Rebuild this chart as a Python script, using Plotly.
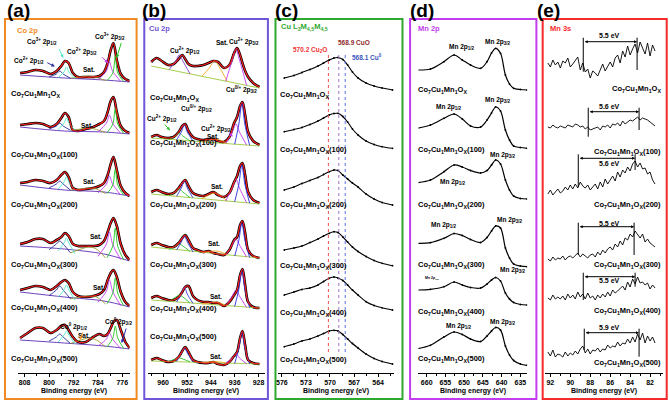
import plotly.graph_objects as go

W, H = 669, 404
FONT = "Liberation Sans, Arial, sans-serif"

samples = ["", "(100)", "(200)", "(300)", "(400)", "(500)"]

# ---------------- (a) Co 2p ----------------
a_energy = [809.5, 807, 804.5, 802, 799.5, 797.5, 796, 794.8, 793.6, 792.2, 790.5, 788,
            785.5, 783.5, 782, 780.8, 779.8, 778.9, 777.8, 776.5, 775, 773.6]
a_fresh = [9, 10, 12, 11, 8, 11, 16, 21, 19, 9, 5, 5, 5, 6, 10, 19, 32, 39, 22, 8, 3, 1]
a_100 = [9, 10, 11, 10, 7, 10, 16, 21, 17, 4, 3, 5, 7, 10, 13, 22, 33, 37, 22, 8, 3, 1]
a_200 = [13, 14, 16, 15, 13, 16, 21, 24, 19, 8, 6, 7, 8, 10, 13, 21, 32, 39, 26, 10, 3, 0]
a_300 = [18, 20, 23, 23, 19, 22, 25, 29, 26, 18, 16, 16, 16, 17, 21, 30, 39, 44, 36, 18, 7, 2]
a_400 = [18, 20, 22, 21, 18, 22, 26, 28, 25, 16, 12, 11, 12, 14, 18, 28, 35, 38, 31, 16, 6, 2]
a_500 = [12, 17, 22, 22, 17, 20, 24, 25, 20, 13, 8, 8, 13, 16, 14, 16, 22, 28, 30, 20, 8, 2]
a_offsets = [291, 239, 177, 111, 65, 23]

a_bg_energy = [809.5, 795, 782, 773.6]
a_bg = [[7, 4, 2, 0], [7, 3, 2, 0], [11, 6, 4, 0], [16, 13, 8, 1], [16, 11, 7, 1], [10, 7, 4, 1]]
a_green_energy = [781, 779.1, 778.3, 777.5, 775.5]
a_green = [[1.4, 9, 26, 9, 0.4], [1.4, 10, 26, 10, 0.4], [2.3, 11, 27, 11, 0.6],
           [4.3, 16, 34, 16, 1.9], [4.3, 15, 30, 15, 1.9], [3, 12, 24, 12, 1.2]]
a_magenta_energy = [784, 781.2, 780.2, 779.2, 776.5]
a_magenta = [[2, 11, 20, 11, 0.6], [2, 11, 19, 11, 0.6], [3.1, 12, 20, 12, 0.9],
             [5.6, 18, 30, 18, 2.3], [5.6, 17, 28, 17, 2.3], [4, 11, 17, 11, 1.5]]
a_cyan_energy = [797, 795.1, 794.3, 793.5, 791.5]
a_cyan = [[4.6, 10, 15, 10, 3.5], [4.6, 11, 16, 11, 3.5], [7.1, 14, 19, 14, 5.4],
          [11, 19, 24, 19, 8], [11, 18, 23, 18, 8], [8, 15, 19, 15, 6]]
a_blue_energy = [800, 797.6, 796.5, 795.4, 793]
a_blue = [[5.1, 8, 11, 8, 3.8], [5.1, 8, 11, 8, 3.8], [8.1, 12, 15, 12, 5.9],
          [12.3, 18, 21, 18, 9.2], [12.3, 18, 22, 18, 9.2], [9, 13, 16, 13, 6.5]]
a_sat_energy = [793, 789.5, 787, 784.5, 781.5]
a_sat = [[3.8, 5, 6, 4.5, 1.5], [3.8, 5, 6, 4.5, 1.5], [5.9, 7, 8, 7, 2.4],
         [9.2, 13, 15, 13, 4], [9.2, 11, 12, 11, 4], [6.5, 10, 12, 10, 3]]

# ---------------- (b) Cu 2p ----------------
b_energy = [964, 962.2, 960.5, 958.3, 956.5, 954.8, 953.6, 952.6, 951.5, 950, 948.5, 946.5,
            944.8, 943.2, 941.6, 939.6, 937.8, 936.2, 935.2, 934.2, 933.4, 932.5, 931.5, 929.8, 927.7]
b_fresh = [26, 30, 27, 23, 24, 29, 33, 29, 24, 22, 22, 23, 25, 27, 26, 20, 23, 35, 40, 33, 25, 17, 11, 5, 1]
b_100 = [9, 11, 9, 8, 9, 14, 20, 22, 15, 9, 7, 6, 7, 7, 5, 4, 9, 23, 29, 40, 44, 31, 14, 5, 1]
b_200 = [12, 14, 12, 10, 11, 16, 21, 24, 18, 11, 9, 8, 10, 12, 9, 7, 11, 22, 28, 38, 41, 29, 12, 4, 1]
b_300 = [14, 16, 14, 12, 12, 16, 21, 24, 19, 11, 9, 7, 8, 6, 5, 4, 9, 19, 22, 34, 38, 26, 9, 3, 1]
b_400 = [11, 13, 11, 9, 9, 12, 17, 22, 23, 13, 9, 7, 7, 6, 6, 3, 7, 14, 19, 34, 40, 24, 7, 2, 1]
b_500 = [5, 7, 5, 3, 4, 8, 14, 18, 13, 5, 3, 2, 2, 3, 1, 0, 3, 9, 13, 27, 34, 20, 5, 2, 1]
b_offsets = [285, 227, 169, 114, 64, 8]

b_bg_energy = [964, 927.7]
b_bg = [[22, 0], [8, 0], [10, 0], [12, 1], [9, 1], [4, 1]]
b_magenta_energy = [939, 936.8, 935.6, 934.4, 932]
b_magenta = [[6.8, 28, 39, 28, 2.6], [2.5, 14, 22, 14, 1], [3.1, 16, 25, 16, 1.2],
             [4, 14, 20, 14, 2], [3, 13, 19, 13, 1.5], [2, 7, 11, 7, 1.2]]
b_blue_energy = [936, 934.6, 933.6, 932.6, 931]
b_blue = [None, [1.8, 22, 43, 22, 0.7], [2.3, 20, 39, 20, 0.9],
          [3, 19, 36, 19, 1.5], [2.5, 20, 38, 20, 1.3], [1.5, 17, 33, 17, 1.1]]
b_blue2_energy = [955.5, 953.9, 952.9, 951.9, 950]
b_blue2 = [None, [6.1, 14, 21, 14, 4.9], [7.7, 16, 23, 16, 6.1],
           [9, 17, 23, 17, 7], [7, 15, 22, 15, 5.5], [3.5, 12, 17, 12, 3]]
b_green_energy = [958, 955.8, 954.6, 953.4, 951]
b_green = [[18.4, 27, 33, 27, 14.1], [6.6, 10, 13, 10, 5.1], [8.3, 12, 15, 12, 6.4],
           [9.5, 13, 15, 13, 7.5], [7.5, 12, 14, 12, 6], [3.7, 6, 7, 6, 3.2]]
b_sat_energy = [947, 944.5, 942.8, 941, 938.5]
b_sat = [[11.7, 20, 27, 20, 6.5], [4.1, 6, 7, 6, 2.4], [5.3, 9, 11, 9, 3],
         [6.5, 7.5, 8, 7.5, 4], [5, 6, 7, 6, 3], [2.5, 3, 3.5, 3, 1.8]]

# ---------------- (c) Cu LMM ----------------
c_energy = [575.7, 574.5, 573.5, 572.5, 571.5, 570.8, 570.1, 569.5, 569, 568.4, 567.8, 567.2,
            566.5, 565.5, 564.5, 563.5, 562.2]
c_fresh = [13, 15.5, 18.5, 21.5, 25, 28, 31, 33, 33.5, 31.5, 26, 19, 13, 8, 5, 3, 1]
c_100 = [17.3, 19.5, 21.5, 24.5, 28, 31, 34, 35.5, 35.7, 32.5, 27, 20, 14, 8, 4.5, 2.3, 0.7]
c_200 = [16, 19, 22.5, 25.5, 28.5, 31.5, 34.3, 36, 35.5, 31, 27, 23, 19, 12, 7, 3.5, 1]
c_300 = [17, 19, 21, 24.5, 28, 31, 33.7, 35.3, 34.5, 30, 25, 20, 15.5, 10.5, 6.5, 3.7, 1.3]
c_400 = [16, 19, 21.5, 23, 26, 29.5, 32.7, 34, 33, 30.5, 26, 21, 16, 9.3, 5.5, 3.2, 1]
c_500 = [18.3, 21, 24, 26, 29, 31.5, 34, 34.7, 34, 30.5, 26, 21.5, 17, 11, 6.5, 3.5, 1]
c_offsets = [282, 224, 167, 106, 62, 8]
c_ref_energy = [570.2, 568.9, 568.1]
c_ref_labels = ["570.2 Cu<sub>2</sub>O", "568.9 CuO", "568.1 Cu<sup>0</sup>"]

# ---------------- (d) Mn 2p ----------------
d_energy = [662.5, 659, 655.4, 652.7, 650.5, 648.3, 645.6, 643.9, 642.7, 641.6, 640.3, 639,
            637.9, 636.8, 635, 633.2]
d_fresh = [21, 22, 29.3, 36, 31, 26, 22.7, 29.3, 38, 42.7, 37.7, 16, 7, 2.7, 1.5, 1]
d_100 = [20.7, 24, 30.7, 35, 30, 23, 22, 29, 36, 42, 38, 19, 9, 3, 1.5, 0.7]
d_200 = [17.3, 20, 28.3, 35, 33, 29.5, 27, 29.5, 35, 40, 36, 20, 10, 4, 1.5, 1]
d_300 = [24.7, 25.3, 29.7, 34.5, 32.5, 28.5, 25.5, 30.5, 37, 42, 40, 20, 10, 4, 2, 1.3]
d_400 = [16, 16.7, 19.3, 24, 21, 18.5, 18, 22, 26, 28.5, 25, 13, 7, 3.5, 1.5, 1]
d_500 = [17.3, 20.7, 29, 34, 31.5, 27, 24.5, 30, 35, 38.5, 36, 20, 11, 5.5, 2, 0.7]
d_offsets = [282, 224, 173, 105, 67, 7]

# ---------------- (e) Mn 3s ----------------
e_energy = [92.25, 92.0, 91.75, 91.5, 91.25, 91.0, 90.75, 90.5, 90.25, 90.0, 89.75, 89.5,
            89.25, 89.0, 88.75, 88.5, 88.25, 88.0, 87.75, 87.5, 87.25, 87.0, 86.75, 86.5,
            86.25, 86.0, 85.75, 85.5, 85.25, 85.0, 84.75, 84.5, 84.25, 84.0, 83.75, 83.5,
            83.25, 83.0, 82.75, 82.5, 82.25, 82.0, 81.75, 81.5]
e_fresh = [19, 15, 22, 17, 20, 14, 21, 19, 24, 15, 18, 22, 25, 12, 19, 10, 13, 4, 11, 9, 6, 12,
           18, 11, 16, 20, 15, 24, 27, 19, 31, 25, 36, 27, 33, 38, 29, 40, 34, 28, 39, 26, 37, 31]
e_100 = [10, 9, 12, 10, 9, 11, 10, 9, 12, 11, 10, 13, 12, 10, 11, 8, 10, 7, 8, 9, 10, 7,
         11, 10, 12, 9, 13, 12, 14, 11, 16, 13, 15, 17, 16, 18, 20, 17, 19, 18, 17, 15, 13, 11]
e_200 = [3, 7, 2, 5, 8, 4, 6, 10, 7, 12, 8, 13, 9, 15, 11, 9, 12, 7, 10, 13, 8, 15,
         10, 18, 13, 17, 21, 16, 25, 20, 27, 24, 30, 26, 33, 36, 30, 34, 28, 29, 23, 25, 17, 13]
e_300 = [3, 1, 5, 2, 4, 3, 6, 2, 5, 6, 4, 7, 9, 5, 8, 6, 4, 7, 8, 5, 10, 7,
         12, 9, 13, 15, 12, 18, 15, 21, 17, 24, 22, 28, 25, 31, 27, 24, 28, 20, 23, 19, 17, 15]
e_400 = [3, 1, 6, 2, 4, 2, 5, 1, 7, 3, 6, 2, 9, 4, 7, 2, 8, 3, 5, 1, 6, 3,
         7, 4, 9, 5, 11, 8, 10, 13, 15, 11, 19, 14, 22, 17, 24, 18, 19, 16, 18, 12, 16, 13]
e_500 = [6, 2, 8, 1, 4, 3, 1, 6, 2, 5, 3, 7, 4, 9, 12, 5, 9, 4, 8, 7, 10, 6,
         9, 8, 13, 10, 12, 11, 16, 12, 15, 14, 19, 15, 21, 16, 24, 18, 25, 15, 22, 17, 21, 15]
e_offsets = [291, 236, 176, 111, 72, 15]
e_left_peak = [88.7, 88.2, 89.2, 89.2, 88.7, 88.6]
e_right_peak = [83.3, 83.1, 83.5, 83.6, 83.5, 83.1]
e_splitting = ["5.5 eV", "5.6 eV", "5.6 eV", "5.5 eV", "5.5 eV", "5.9 eV"]

# ================= figure =================
fig = go.Figure()


def px(x):
    return x / W


def py(y):
    return 1 - y / H


ORANGE = "#F08A24"
BLUEV = "#6F55D8"
GREEN = "#2FA82F"
VIOLET = "#C23CF0"
RED = "#F52A2A"

panels = {
    "a": dict(n="", dom=(15.7, 128), rng=[810.3, 773.6], t0=776, dt=8),
    "b": dict(n="2", dom=(146.7, 263.3), rng=[965, 926], t0=928, dt=8),
    "c": dict(n="3", dom=(276.7, 393.3), rng=[576.5, 562.0], t0=564, dt=3),
    "d": dict(n="4", dom=(417.7, 526.7), rng=[662.2, 633.2], t0=635, dt=5),
    "e": dict(n="5", dom=(545, 663), rng=[92.5, 80.7], t0=82, dt=2),
}

for key, p in panels.items():
    n = p["n"]
    fig.layout["xaxis" + n] = dict(
        domain=[px(p["dom"][0]), px(p["dom"][1])], range=p["rng"], anchor="y" + n,
        showline=True, linecolor="black", linewidth=1, ticks="outside", ticklen=3,
        tickwidth=1, tickcolor="black", tick0=p["t0"], dtick=p["dt"],
        tickfont=dict(family=FONT, size=7, color="black", weight="bold"),
        showgrid=False, zeroline=False, fixedrange=True,
        minor=dict(ticks="outside", ticklen=2, tickcolor="black", dtick=p["dt"] / 2, showgrid=False),
    )
    fig.layout["yaxis" + n] = dict(
        domain=[py(373), py(19)], range=[0, 354], anchor="x" + n, visible=False, fixedrange=True)


def add_line(xs, ys, off, axis, color, width, spline=True, mode="lines", msize=2):
    if ys is None:
        return
    fig.add_trace(go.Scatter(
        x=xs, y=[v + off for v in ys], mode=mode, xaxis="x" + axis, yaxis="y" + axis,
        line=dict(color=color, width=width, shape="spline" if spline else "linear", smoothing=0.9),
        marker=dict(size=msize, color=color), hoverinfo="skip"))


# (a)
a_spectra = [a_fresh, a_100, a_200, a_300, a_400, a_500]
for i in range(6):
    o = a_offsets[i]
    add_line(a_energy, a_spectra[i], o, "", "black", 2.6)
    add_line(a_bg_energy, a_bg[i], o, "", "#5B2DB5", 0.9)
    add_line(a_sat_energy, a_sat[i], o, "", "#9A9A2E", 0.9)
    add_line(a_blue_energy, a_blue[i], o, "", "#2A2F9A", 0.9)
    add_line(a_cyan_energy, a_cyan[i], o, "", "#55E8C8", 0.9)
    add_line(a_magenta_energy, a_magenta[i], o, "", "#C23CF0", 0.9)
    add_line(a_green_energy, a_green[i], o, "", "#1FC81F", 0.9)
    add_line(a_energy, a_spectra[i], o, "", "#FF1E1E", 1.2)

# (b)
b_spectra = [b_fresh, b_100, b_200, b_300, b_400, b_500]
for i in range(6):
    o = b_offsets[i]
    add_line(b_energy, b_spectra[i], o, "2", "black", 2.6)
    add_line(b_bg_energy, b_bg[i], o, "2", "#9BC83A", 0.9, spline=False)
    add_line(b_sat_energy, b_sat[i], o, "2", "#F5A623", 0.9)
    add_line(b_green_energy, b_green[i], o, "2", "#2FC12F" if i else "#8A3FD0", 0.9)
    add_line(b_blue2_energy, b_blue2[i], o, "2", "#3A3AD8", 0.9)
    add_line(b_magenta_energy, b_magenta[i], o, "2", "#C23CF0", 0.9)
    add_line(b_blue_energy, b_blue[i], o, "2", "#2A2AE0", 0.9)
    add_line(b_energy, b_spectra[i], o, "2", "#FF1E1E", 1.2)

# (c)
c_spectra = [c_fresh, c_100, c_200, c_300, c_400, c_500]
for i in range(6):
    add_line(c_energy, c_spectra[i], c_offsets[i], "3", "black", 1.1, mode="lines+markers", msize=1.8)

# (d)
d_spectra = [d_fresh, d_100, d_200, d_300, d_400, d_500]
for i in range(6):
    add_line(d_energy, d_spectra[i], d_offsets[i], "4", "black", 1.2, mode="lines+markers", msize=1.8)

# (e)
e_spectra = [e_fresh, e_100, e_200, e_300, e_400, e_500]
for i in range(6):
    add_line(e_energy, e_spectra[i], e_offsets[i], "5", "black", 0.9, spline=False)

shapes = []
ann = []


def txt(x, y, s, size=7.0, color="black", xanchor="center"):
    ann.append(dict(x=px(x), y=py(y), xref="paper", yref="paper",
                    text=s, showarrow=False,
                    font=dict(family=FONT, size=size, color=color, weight="bold"),
                    xanchor=xanchor, yanchor="middle"))


def arrow(x, y, x0, y0, color):
    ann.append(dict(x=px(x), y=py(y), xref="paper", yref="paper", ax=x0 - x, ay=y0 - y,
                    text="", showarrow=True, arrowhead=2, arrowsize=0.7, arrowwidth=1,
                    arrowcolor=color))


# frames
for (x0, x1, col) in [(3, 135, ORANGE), (142.7, 266.7, BLUEV), (274.3, 401.7, GREEN),
                      (409.3, 536, VIOLET), (542.3, 666.7, RED)]:
    shapes.append(dict(type="rect", xref="paper", yref="paper", x0=px(x0), x1=px(x1),
                       y0=py(399), y1=py(19), line=dict(color=col, width=2)))

# panel letters
for (x, s) in [(17, "(a)"), (152, "(b)"), (285, "(c)"), (421, "(d)"), (548, "(e)")]:
    txt(x, 10, s, size=19)

# panel titles
txt(13, 30.5, "Co 2p", 7.5, ORANGE, "left")
txt(145, 28.5, "Cu 2p", 7.5, BLUEV, "left")
txt(278, 27, "Cu L<sub>3</sub>M<sub>4,5</sub>M<sub>4,5</sub>", 7.5, GREEN, "left")
txt(415, 28, "Mn 2p", 7.5, VIOLET, "left")
txt(548, 28, "Mn 3s", 7.5, RED, "left")

# axis titles
for (x0, x1) in [(15.7, 128), (146.7, 263.3), (276.7, 393.3), (417.7, 526.7), (545, 663)]:
    txt((x0 + x1) / 2, 390.5, "Binding energy (eV)", 7)

# sample labels
label_pos = {
    "a": (7, [94, 155, 205, 265, 308, 359], "left"),
    "b": (146.7, [98, 143, 205, 265, 309, 337], "left"),
    "c": (277, [95, 150, 205, 265.7, 313, 360], "left"),
    "d": (415, [90, 150, 205, 265, 311.7, 359.3], "left"),
    "e": (663, [89, 151.7, 205, 265, 310.7, 363.3], "right"),
}
for key, (x, ys, anc) in label_pos.items():
    for i, y in enumerate(ys):
        txt(x, y, "Co<sub>7</sub>Cu<sub>1</sub>Mn<sub>1</sub>O<sub>X</sub>" + samples[i], 7.5, "black", anc)

# (a) peak labels
txt(27, 60, "Co<sup>2+</sup> 2p<sub>1/2</sub>", 6.5)
txt(40, 41.5, "Co<sup>3+</sup> 2p<sub>1/2</sub>", 6.5)
txt(80, 51.5, "Co<sup>2+</sup> 2p<sub>3/2</sub>", 6.5)
txt(108, 36.5, "Co<sup>3+</sup> 2p<sub>3/2</sub>", 6.5)
arrow(53, 66.5, 44, 62, "#2A2F9A")
arrow(61.5, 58, 56.5, 47.5, "#55E8C8")
arrow(106.5, 63, 99, 56, "#C23CF0")
arrow(115, 58, 120, 41.5, "#1FC81F")
for (x, y) in [(87.5, 70), (85, 125), (87.5, 181.5), (94, 236.5), (97.5, 287), (82, 335)]:
    txt(x, y, "Sat.", 6.5)
txt(72, 326.5, "Co<sup>0</sup> 2p<sub>1/2</sub>", 6.5)
txt(117, 321.5, "Co<sup>0</sup> 2p<sub>3/2</sub>", 6.5)
arrow(78, 340, 81.5, 331, "#F58A1F")
arrow(120, 343, 125, 327, "#2A2AB0")

# (b) peak labels
txt(183.5, 50, "Cu<sup>2+</sup> 2p<sub>1/2</sub>", 6.5)
txt(221, 43, "Sat.", 6.5)
txt(243, 41.5, "Cu<sup>2+</sup> 2p<sub>3/2</sub>", 6.5)
txt(160, 118.5, "Cu<sup>2+</sup> 2p<sub>1/2</sub>", 6.5)
txt(195, 108.5, "Cu<sup>0/+</sup> 2p<sub>1/2</sub>", 6.5)
txt(240, 90, "Cu<sup>0/+</sup> 2p<sub>3/2</sub>", 6.5)
txt(215, 128, "Cu<sup>2+</sup> 2p<sub>3/2</sub>", 6.5)
arrow(168.5, 130.5, 162, 123, "#2FC12F")
arrow(231.5, 136.5, 226, 131.5, "#C23CF0")
for (x, y) in [(212, 136.5), (216, 186.5), (213, 243.5), (215, 296.5), (215, 356.5)]:
    txt(x, y, "Sat.", 6.5)

# (c) reference lines
ref_cols = ["#F24A4A", "#A070D0", "#5A6FE0"]
for i, e in enumerate(c_ref_energy):
    shapes.append(dict(type="line", xref="x3", yref="y3", x0=e, x1=e, y0=21, y1=320,
                       line=dict(color=ref_cols[i], width=1, dash="dot")))
txt(309, 50, c_ref_labels[0], 6.5, "#F03030")
txt(353, 43, c_ref_labels[1], 6.5, "#8E2A2A")
txt(366, 57, c_ref_labels[2], 6.5, "#3A55C0")

# (d) labels
d_lab = [(461, 47, "1/2"), (497, 42, "3/2"), (448, 107, "1/2"), (497, 100, "3/2"),
         (503, 155, "3/2"), (452, 182, "1/2"), (443, 225, "1/2"), (510, 220, "3/2"),
         (513, 270, "3/2"), (458, 326, "1/2"), (503, 322, "3/2")]
for (x, y, s) in d_lab:
    txt(x, y, "Mn 2p<sub>%s</sub>" % s, 6.5)
txt(431, 278, "Mn 2p<sub>1/2</sub>", 3.5)

# (e) splitting markers
e_arrow_y = [331.3, 261.3, 214.7, 146.3, 96.3, 40.3]
e_left_bottom = [301.3, 236.3, 186.3, 118, 73, 23]
e_right_bottom = [303, 243, 203, 118, 86.3, 16.3]
e_label_y = [338, 267, 209.7, 149.7, 92.3, 45.7]
for i in range(6):
    for (xv, yb) in [(e_left_peak[i], e_left_bottom[i]), (e_right_peak[i], e_right_bottom[i])]:
        shapes.append(dict(type="line", xref="x5", yref="y5", x0=xv, x1=xv,
                           y0=yb, y1=e_arrow_y[i] + 4, line=dict(color="black", width=1)))
    ann.append(dict(x=e_right_peak[i], y=e_arrow_y[i], xref="x5", yref="y5",
                    ax=e_left_peak[i], ay=e_arrow_y[i], axref="x5", ayref="y5", text="",
                    showarrow=True, arrowhead=2, arrowside="end+start", arrowsize=0.6,
                    arrowwidth=1, arrowcolor="black"))
    ann.append(dict(x=86.1, y=e_label_y[i], xref="x5", yref="y5", text=e_splitting[i],
                    showarrow=False, font=dict(family=FONT, size=7, color="black", weight="bold"),
                    xanchor="center", yanchor="middle"))

fig.update_layout(
    width=W, height=H, margin=dict(l=0, r=0, t=0, b=0),
    paper_bgcolor="white", plot_bgcolor="rgba(0,0,0,0)", showlegend=False,
    shapes=shapes, annotations=ann,
)

fig.write_html(
    "out.html",
    config={"displayModeBar": False, "staticPlot": True},
    post_script="document.body.style.margin='0';document.body.style.padding='0';"
                "document.body.style.overflow='hidden';",
)
